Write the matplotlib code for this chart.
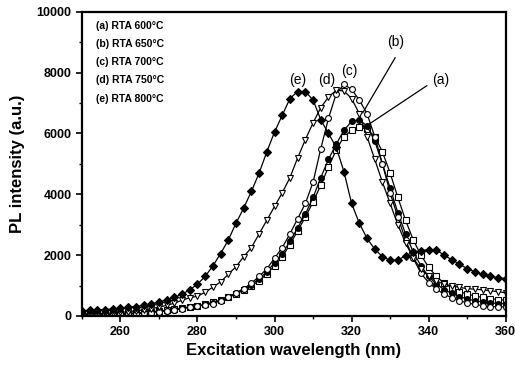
import matplotlib
matplotlib.use("Agg")
import matplotlib.pyplot as plt
from matplotlib.ticker import MultipleLocator
import numpy as np

plt.rcParams['font.family'] = ['Liberation Sans', 'DejaVu Sans']

# wavelength grid (nm)
wl = np.arange(250, 362, 2)

# (a) RTA 600C - open squares
pl_a = [50, 55, 60, 65, 70, 80, 90, 100, 120, 140, 160, 190, 220, 260, 300, 340,
        390, 450, 520, 610, 720, 850, 990, 1160, 1380, 1650, 1950, 2350, 2800, 3250,
        3750, 4300, 4900, 5450, 5900, 6100, 6200, 6150, 5900, 5400, 4700, 3900, 3150,
        2500, 2000, 1600, 1300, 1080, 920, 800, 720, 660, 610, 570, 540, 520]
# (b) RTA 650C - filled circles
pl_b = [30, 35, 40, 45, 55, 65, 75, 90, 105, 125, 150, 180, 210, 250, 290, 330,
        380, 440, 520, 620, 740, 880, 1030, 1220, 1450, 1750, 2050, 2450, 2900, 3350,
        3900, 4550, 5150, 5650, 6100, 6400, 6450, 6250, 5750, 5000, 4200, 3400, 2700,
        2100, 1650, 1300, 1050, 870, 740, 640, 560, 500, 460, 430, 410, 400]
# (c) RTA 700C - open circles
pl_c = [20, 25, 30, 35, 40, 50, 60, 75, 90, 110, 140, 170, 200, 240, 280, 320,
        360, 410, 500, 620, 760, 900, 1080, 1300, 1550, 1900, 2250, 2700, 3200, 3700,
        4400, 5500, 6500, 7300, 7620, 7450, 7100, 6650, 5900, 5000, 4050, 3250, 2500,
        1900, 1400, 1100, 880, 720, 600, 500, 430, 380, 340, 310, 300, 300]
# (d) RTA 750C - open down triangles
pl_d = [60, 70, 80, 90, 100, 120, 140, 170, 200, 240, 290, 350, 420, 520, 600, 650,
        780, 950, 1120, 1370, 1620, 1950, 2250, 2700, 3150, 3600, 4050, 4550, 5200, 5800,
        6350, 6850, 7200, 7420, 7400, 7150, 6650, 5900, 5150, 4400, 3700, 3000, 2400,
        1900, 1550, 1300, 1150, 1050, 990, 940, 900, 880, 860, 830, 800, 760]
# (e) RTA 800C - filled diamonds
pl_e = [160, 190, 200, 210, 230, 250, 280, 310, 350, 400, 460, 530, 610, 720, 860, 1050,
        1300, 1650, 2050, 2500, 3050, 3550, 4100, 4700, 5400, 6050, 6600, 7150, 7380, 7380,
        7100, 6450, 6000, 5550, 4750, 3700, 3050, 2550, 2200, 1950, 1830, 1840, 1980,
        2100, 2150, 2180, 2170, 2000, 1850, 1700, 1560, 1450, 1370, 1300, 1260, 1230]

legend_lines = ["(a) RTA 600\u00b0C", "(b) RTA 650\u00b0C", "(c) RTA 700\u00b0C",
                "(d) RTA 750\u00b0C", "(e) RTA 800\u00b0C"]

fig = plt.figure(figsize=(5.15, 3.7), dpi=100)
ax = fig.add_axes([0.159, 0.146, 0.823, 0.822])

kw = dict(color='black', lw=0.9, ms=4.2, mew=0.8)
ax.plot(wl, pl_a, marker='s', mfc='white', **kw)
ax.plot(wl, pl_b, marker='o', mfc='black', **kw)
ax.plot(wl, pl_c, marker='o', mfc='white', **kw)
ax.plot(wl, pl_d, marker='v', mfc='white', **kw)
ax.plot(wl, pl_e, marker='D', mfc='black', ms=3.8, color='black', lw=0.9, mew=0.8)

ax.set_xlim(250, 360)
ax.set_ylim(0, 10000)
ax.xaxis.set_major_locator(MultipleLocator(20))
ax.xaxis.set_minor_locator(MultipleLocator(10))
ax.yaxis.set_major_locator(MultipleLocator(2000))
ax.yaxis.set_minor_locator(MultipleLocator(1000))
ax.tick_params(which='major', direction='out', length=4, width=1.2, labelsize=9)
ax.tick_params(which='minor', direction='out', length=2.5, width=1)
for lab in ax.get_xticklabels() + ax.get_yticklabels():
    lab.set_fontweight('bold')
for sp in ax.spines.values():
    sp.set_linewidth(1.6)

ax.set_xlabel('Excitation wavelength (nm)', fontsize=12, fontweight='bold', labelpad=3)
ax.set_ylabel('PL intensity (a.u.)', fontsize=12, fontweight='bold', labelpad=8)

for i, s in enumerate(legend_lines):
    ax.text(0.034, 0.955 - i * 0.06, s, transform=ax.transAxes, fontsize=7.5,
            fontweight='bold', va='center', ha='left')

# curve labels
ax.text(306, 7760, '(e)', fontsize=10, ha='center', va='center')
ax.text(313.5, 7760, '(d)', fontsize=10, ha='center', va='center')
ax.text(319.5, 8050, '(c)', fontsize=10, ha='center', va='center')
ax.text(331.5, 9000, '(b)', fontsize=10, ha='center', va='center')
ax.text(343, 7760, '(a)', fontsize=10, ha='center', va='center')
ax.plot([331.3, 322.9], [8490, 6680], color='black', lw=0.9)
ax.plot([339.5, 324.2], [7570, 6280], color='black', lw=0.9)

fig.savefig('out.png', dpi=100)
